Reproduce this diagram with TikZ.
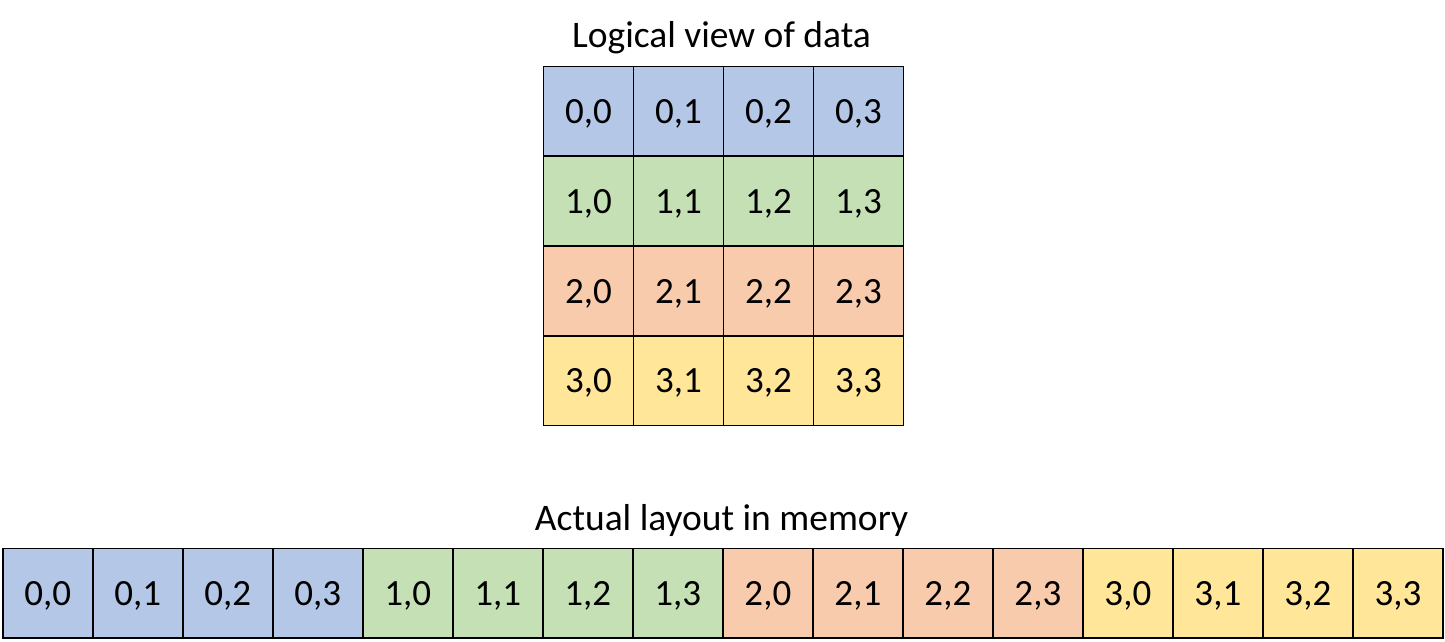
\documentclass[tikz,border=0pt]{standalone}
\usepackage{fontspec}
\setmainfont{Carlito}
\definecolor{cblue}{HTML}{B4C7E7}
\definecolor{cgreen}{HTML}{C5E0B4}
\definecolor{corange}{HTML}{F8CBAD}
\definecolor{cyellow}{HTML}{FFE699}
\begin{document}
\begin{tikzpicture}[x=1pt,y=-1pt,
  cell/.style={draw=black, line width=1.7pt, minimum width=90pt, minimum height=90pt, inner sep=0pt, anchor=north west, text height=24.5pt, text depth=0pt, font=\fontsize{37}{44}\selectfont},
  title/.style={font=\fontsize{37.5}{45}\selectfont, inner sep=0pt, anchor=base}]
\useasboundingbox (0,0) rectangle (1445,641);
\node[title] (t1) at (721.5,47.3) {Logical view of data};
\node[title] (t2) at (721.5,530) {Actual layout in memory};
\foreach \r/\c in {0/cblue,1/cgreen,2/corange,3/cyellow}{
  \foreach \k in {0,...,3}{
    \node[cell, fill=\c, minimum height=89.7pt] (g\r\k) at ({542.7+90*\k},{65.7+89.7*\r}) {\r,\k};
    \node[cell, fill=\c, minimum height=89.5pt] (m\r\k) at ({2+90*(4*\r+\k)},547.7) {\r,\k};
  }
}
\end{tikzpicture}
\end{document}
